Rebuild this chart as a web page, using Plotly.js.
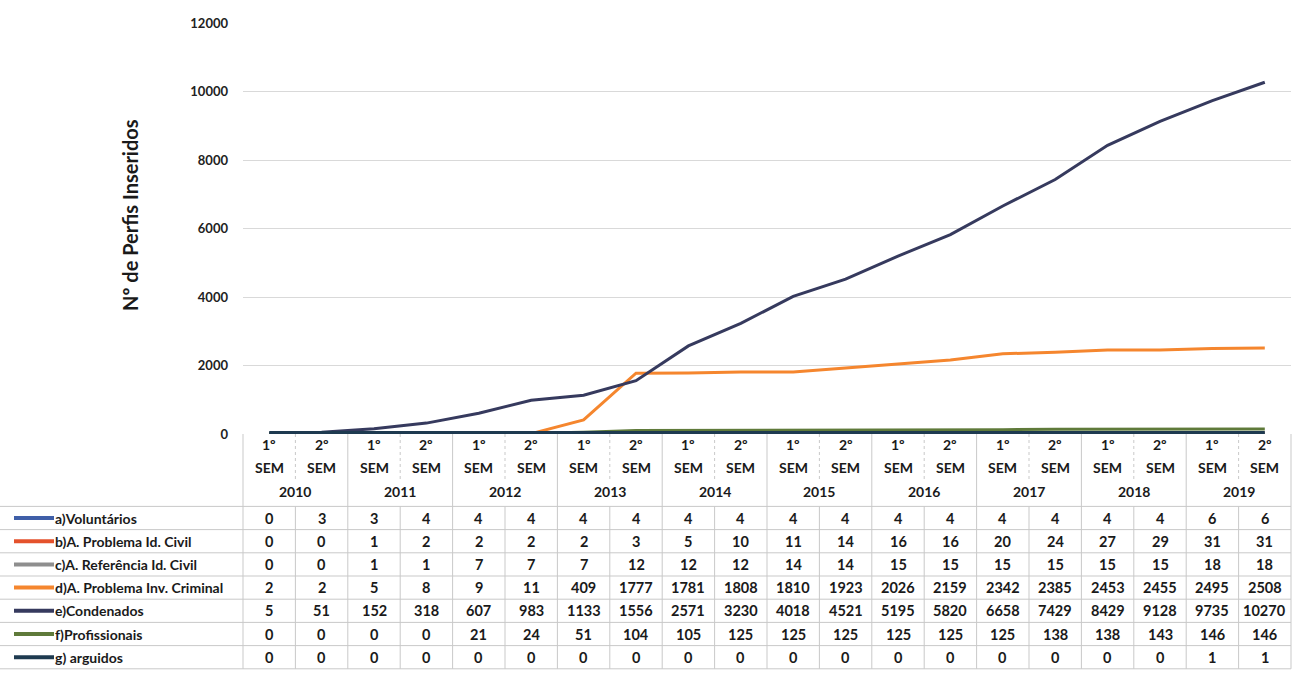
<!DOCTYPE html>
<html>
<head>
<meta charset="utf-8">
<script src="https://cdn.plot.ly/plotly-3.0.1.min.js"></script>
<style>
html,body{margin:0;padding:0;background:#fff;}
#chart{width:1293px;height:686px;}
</style>
</head>
<body>
<div id="chart"></div>
<script>
// ---- data ----
const years = ['2010','2011','2012','2013','2014','2015','2016','2017','2018','2019'];
const semesters = ['1º','2º'];
const semWord = 'SEM';
const seriesNames = ['a)Voluntários','b)A. Problema Id. Civil','c)A. Referência Id. Civil','d)A. Problema Inv. Criminal','e)Condenados','f)Profissionais','g) arguidos'];
const voluntarios = [0,3,3,4,4,4,4,4,4,4,4,4,4,4,4,4,4,4,6,6];
const problemaCivil = [0,0,1,2,2,2,2,3,5,10,11,14,16,16,20,24,27,29,31,31];
const referenciaCivil = [0,0,1,1,7,7,7,12,12,12,14,14,15,15,15,15,15,15,18,18];
const problemaCriminal = [2,2,5,8,9,11,409,1777,1781,1808,1810,1923,2026,2159,2342,2385,2453,2455,2495,2508];
const condenados = [5,51,152,318,607,983,1133,1556,2571,3230,4018,4521,5195,5820,6658,7429,8429,9128,9735,10270];
const profissionais = [0,0,0,0,21,24,51,104,105,125,125,125,125,125,125,138,138,143,146,146];
const arguidos = [0,0,0,0,0,0,0,0,0,0,0,0,0,0,0,0,0,0,1,1];
const yTickVals = [0,2000,4000,6000,8000,10000,12000];
const yTitle = 'Nº de Perfis Inseridos';

// ---- style ----
const colors = ['#3f5fa8','#e4522c','#8e8e8e','#f5862e','#363a5e','#5f7a3a','#1e3a50'];
const widths = [3,3,3,3,3,3,6];
const FONT = 'Lato, "Open Sans", sans-serif';
const W = 1293, H = 686;
const ML = 243, MR = 2, MT = 23, MB = 252;
const plotW = W - ML - MR, plotH = H - MT - MB;
const px2x = px => (px - ML) / plotW;
const py2y = py => (H - MB - py) / plotH;

const allSeries = [voluntarios, problemaCivil, referenciaCivil, problemaCriminal, condenados, profissionais, arguidos];
const n = years.length * semesters.length;
const xs = Array.from({length:n}, (_, i) => i);

const traces = allSeries.map((vals, k) => ({
  type: 'scatter', mode: 'lines', x: xs, y: vals, name: seriesNames[k],
  line: {color: colors[k], width: widths[k]}, hoverinfo: 'x+y+name'
}));

const ann = [];
const shapes = [];
const txt = (x, xref, y, text, size, anchor) => ({
  x, xref, y: py2y(y), yref: 'paper', text, showarrow: false,
  xanchor: anchor || 'center', yanchor: 'middle',
  font: {family: FONT, size: size || 14, color: '#1a1a1a', weight: 'bold'}
});

// header labels
for (let i = 0; i < n; i++) {
  ann.push(txt(i, 'x', 444, '<b>' + semesters[i % 2] + '</b>', 14));
  ann.push(txt(i, 'x', 467, '<b>' + semWord + '</b>', 14));
}
years.forEach((yr, k) => ann.push(txt(2 * k + 0.5, 'x', 491, '<b>' + yr + '</b>', 14)));

// table rows
const rowY = r => 518 + r * 23.2;
allSeries.forEach((vals, r) => {
  const y = rowY(r);
  vals.forEach((v, i) => ann.push(txt(i, 'x', y, '<b>' + v + '</b>', 14.5)));
  ann.push(txt(px2x(53), 'paper', y, '<b>' + seriesNames[r] + '</b>', 14, 'left'));
  shapes.push({type: 'line', xref: 'paper', yref: 'paper', x0: px2x(14), x1: px2x(54), y0: py2y(y), y1: py2y(y),
    line: {color: colors[r], width: 4}});
});

// table grid
const gridCol = '#c9c9c9';
for (let r = 0; r <= allSeries.length; r++) {
  const y = rowY(r) - 11.6;
  shapes.push({type: 'line', xref: 'paper', yref: 'paper', x0: px2x(0), x1: 1, y0: py2y(y), y1: py2y(y),
    line: {color: gridCol, width: 1}});
}
for (let k = 0; k <= n; k++) {
  const x = k / n;
  const bottom = py2y(rowY(allSeries.length) - 11.6);
  if (k % 2 === 0) {
    shapes.push({type: 'line', xref: 'paper', yref: 'paper', x0: x, x1: x, y0: 0, y1: bottom, line: {color: gridCol, width: 1}});
  } else {
    shapes.push({type: 'line', xref: 'paper', yref: 'paper', x0: x, x1: x, y0: 0, y1: py2y(480), line: {color: gridCol, width: 1, dash: 'dot'}});
    shapes.push({type: 'line', xref: 'paper', yref: 'paper', x0: x, x1: x, y0: py2y(rowY(0) - 11.6), y1: bottom, line: {color: gridCol, width: 1}});
  }
}

// y title
ann.push({x: px2x(130), xref: 'paper', y: py2y(215), yref: 'paper', text: '<b>' + yTitle + '</b>', textangle: -90,
  showarrow: false, xanchor: 'center', yanchor: 'middle', font: {family: FONT, size: 20, color: '#1a1a1a'}});

const layout = {
  width: W, height: H,
  margin: {l: ML, r: MR, t: MT, b: MB},
  paper_bgcolor: '#ffffff', plot_bgcolor: '#ffffff',
  showlegend: false,
  font: {family: FONT, color: '#1a1a1a'},
  xaxis: {range: [-0.5, n - 0.5], showticklabels: false, showgrid: false, zeroline: false, showline: false, fixedrange: true},
  yaxis: {range: [0, 12000], tickmode: 'array', tickvals: yTickVals, ticktext: yTickVals.map(String),
    showgrid: true, gridcolor: '#d9d9d9', gridwidth: 1,
    zeroline: false, showline: false, ticks: '', ticklabelstandoff: 14,
    tickfont: {family: FONT, size: 13, color: '#222', weight: 'bold'}, fixedrange: true},
  annotations: ann,
  shapes: shapes
};

Plotly.newPlot('chart', traces, layout, {displayModeBar: false, staticPlot: true});
</script>
</body>
</html>
